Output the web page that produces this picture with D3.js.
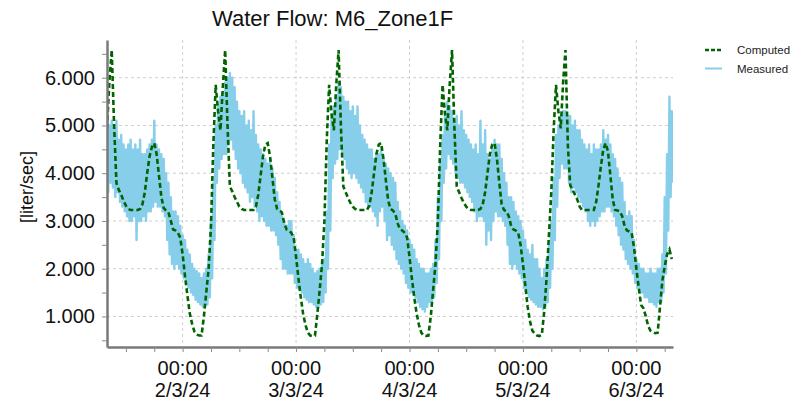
<!DOCTYPE html>
<html>
<head>
<meta charset="utf-8">
<script src="https://cdn.jsdelivr.net/npm/d3@7/dist/d3.min.js"></script>
<style>
	body { margin: 0; background: #fff; }
	text { font-family: "Liberation Sans", Arial, sans-serif; fill: #111; }
</style>
</head>
<body>
<svg id="chart" width="803" height="403"></svg>
<script>

	// Both series start 1/3/24 08:00
	var startTime = new Date(2024, 2, 1, 8, 0),
		computedStep = 30,   // minutes
		measuredStep = 15;   // minutes

	// Computed flow [liter/sec], every 30 min
	var computed = [
		// 1/3 08:00 - 23:30
		4.95, 5.9, 6.58, 5.0, 3.79, 3.65, 3.55, 3.42, 3.32, 3.25, 3.23, 3.23, 3.23, 3.23, 3.25, 3.35,
		3.6, 4.0, 4.35, 4.55, 4.63, 4.4, 3.95, 3.5, 3.27, 3.22, 3.18, 3.0, 2.82, 2.8, 2.75, 2.65,
		// 2/3
		2.3, 1.85, 1.45, 1.07, 0.85, 0.68, 0.62, 0.6, 0.6, 1.0, 1.5, 2.0, 2.9, 4.6, 5.85, 5.3,
		4.9, 5.8, 6.58, 5.0, 3.72, 3.62, 3.5, 3.4, 3.3, 3.25, 3.23, 3.23, 3.23, 3.23, 3.23, 3.3,
		3.55, 3.95, 4.35, 4.6, 4.63, 4.35, 3.9, 3.45, 3.25, 3.22, 3.18, 2.95, 2.82, 2.8, 2.75, 2.65,
		// 3/3
		2.25, 1.8, 1.4, 1.05, 0.82, 0.66, 0.6, 0.59, 0.6, 1.05, 1.55, 2.1, 3.0, 4.7, 5.85, 5.25,
		4.9, 5.85, 6.58, 4.95, 3.72, 3.6, 3.48, 3.38, 3.3, 3.25, 3.23, 3.23, 3.23, 3.23, 3.23, 3.32,
		3.6, 4.0, 4.4, 4.6, 4.63, 4.3, 3.85, 3.42, 3.25, 3.22, 3.15, 2.95, 2.82, 2.8, 2.75, 2.65,
		// 4/3
		2.25, 1.8, 1.4, 1.07, 0.82, 0.66, 0.6, 0.59, 0.6, 1.0, 1.55, 2.1, 3.0, 4.6, 5.85, 5.25,
		4.9, 5.85, 6.58, 4.95, 3.72, 3.6, 3.48, 3.38, 3.3, 3.25, 3.23, 3.23, 3.23, 3.23, 3.25, 3.35,
		3.6, 4.0, 4.4, 4.6, 4.63, 4.3, 3.8, 3.35, 3.23, 3.2, 3.1, 2.9, 2.82, 2.8, 2.75, 2.5,
		// 5/3
		2.1, 1.65, 1.2, 0.9, 0.7, 0.64, 0.6, 0.59, 0.62, 1.1, 1.8, 2.7, 3.6, 4.9, 5.85, 5.3,
		4.94, 5.9, 6.58, 4.6, 3.75, 3.65, 3.55, 3.45, 3.3, 3.23, 3.23, 3.23, 3.23, 3.23, 3.23, 3.4,
		3.75, 4.15, 4.5, 4.63, 4.45, 3.95, 3.45, 3.23, 3.22, 3.2, 3.1, 2.9, 2.8, 2.78, 2.75, 2.45,
		// 6/3 00:00 - 07:30
		2.0, 1.6, 1.24, 1.17, 1.0, 0.8, 0.7, 0.67, 0.65, 0.66, 1.2, 1.75, 2.05, 2.3, 2.4, 2.2
	];

	// Measured flow [liter/sec], every 15 min (noisy, jumps up and down), one row per 6 hours
	var measured = [
		5.4,3.6,5.0,3.8, 5.1,3.7,4.9,3.5, 5.1,3.6,4.7,3.4, 4.8,3.3,4.6,3.2, 4.5,3.1,4.6,3.0, 4.7,3.0,4.5,3.1,
		4.6,2.6,4.5,3.0, 4.7,3.0,4.4,3.1, 4.4,3.0,4.5,3.2, 4.6,3.2,4.7,3.3, 5.1,3.4,4.6,3.3, 4.5,3.3,4.4,3.2,
		4.3,3.1,4.0,2.6, 3.8,2.3,3.5,2.1, 3.2,2.0,3.2,2.1, 3.1,2.0,2.9,1.9, 2.7,1.8,2.6,1.7, 2.4,1.6,2.3,1.5,
		2.1,1.45,2.0,1.35, 1.95,1.3,1.9,1.25, 1.8,1.2,1.9,1.2, 2.0,1.25,2.3,1.4, 3.0,1.8,3.8,2.6, 5.0,3.8,5.4,4.1,
		5.6,4.3,5.7,4.4, 5.9,4.4,6.0,4.6, 6.1,4.7,6.0,4.5, 5.8,4.3,5.5,4.1, 5.3,4.0,5.2,3.8, 5.3,3.7,5.0,3.6,
		5.1,3.4,4.9,3.5, 5.3,3.3,4.8,3.2, 4.6,3.0,4.5,3.1, 4.4,3.0,4.3,2.9, 4.2,2.9,4.3,2.8, 4.1,2.8,3.9,2.7,
		3.6,2.5,3.4,2.2, 3.1,2.0,3.0,2.0, 2.9,1.9,3.0,1.9, 3.0,1.9,2.7,1.7, 2.4,1.6,2.4,1.55, 2.3,1.5,2.2,1.4,
		2.1,1.35,2.2,1.3, 2.1,1.3,2.0,1.25, 1.9,1.2,1.95,1.2, 2.0,1.25,2.1,1.3, 2.2,1.5,3.2,2.0, 4.6,2.8,5.2,3.9,
		5.4,4.2,5.6,4.3, 5.9,4.5,5.8,4.4, 5.6,4.3,5.5,4.1, 5.5,4.0,5.3,3.9, 5.4,4.0,5.2,3.9, 5.4,3.8,5.0,3.7,
		4.8,3.6,4.7,3.4, 4.6,3.3,4.5,3.3, 4.5,3.2,4.3,3.1, 4.4,2.9,4.4,3.2, 4.5,3.3,4.3,3.0, 4.2,2.6,4.1,2.7,
		4.0,2.5,3.9,2.4, 3.8,2.2,3.4,2.1, 3.2,2.0,3.0,1.9, 2.9,1.7,2.8,1.6, 2.6,1.5,2.5,1.5, 2.4,1.4,2.2,1.3,
		2.1,1.2,2.0,1.15, 2.0,1.1,1.9,1.2, 1.9,1.3,2.0,1.3, 2.1,1.4,2.6,1.7, 3.5,2.2,4.2,3.0, 4.8,3.8,5.2,4.1,
		5.5,4.4,5.4,4.3, 5.3,4.2,5.1,4.0, 5.2,3.9,5.0,3.8, 5.3,3.8,4.9,3.7, 4.8,3.6,4.7,3.5, 4.6,3.4,4.5,3.2,
		4.6,3.0,4.4,3.1, 5.1,3.1,4.6,3.0, 4.9,2.5,4.4,2.8, 4.3,2.6,4.5,3.0, 4.7,3.2,4.6,3.1, 4.6,3.1,4.3,3.0,
		4.0,2.9,3.8,2.5, 3.5,2.1,3.5,2.0, 3.4,2.1,3.2,2.0, 3.1,1.9,3.0,1.8, 2.8,1.6,2.6,1.5, 2.4,1.4,2.3,1.35,
		2.5,1.3,2.2,1.25, 2.2,1.2,2.0,1.2, 1.8,1.15,2.0,1.2, 2.2,1.3,2.5,1.6, 3.0,2.0,3.9,2.6, 4.8,3.3,5.0,3.9,
		5.2,4.2,5.3,4.1, 5.3,4.1,5.2,3.8, 5.2,3.6,5.0,3.7, 5.1,3.6,4.9,3.5, 4.9,3.4,4.7,3.3, 4.6,3.2,4.5,3.0,
		4.6,2.9,4.4,3.0, 4.6,2.9,4.5,3.0, 4.5,3.1,4.6,3.2, 4.9,3.2,4.7,3.3, 4.8,3.3,4.6,3.2, 4.4,3.1,4.3,2.9,
		4.1,2.7,3.9,2.5, 3.8,2.4,3.4,2.2, 3.1,2.1,3.2,2.0, 3.1,1.9,2.6,1.7, 2.2,1.6,2.1,1.5, 2.0,1.5,2.0,1.4,
		1.9,1.4,1.9,1.3, 2.0,1.3,1.9,1.25, 1.9,1.2,2.0,1.3, 2.0,1.3,2.3,1.5, 3.5,1.9,4.4,2.8, 5.6,3.5,5.3,3.8
	];

	// Axis ticks
	var yLabels = [1, 2, 3, 4, 5, 6],
		yMinor = [0.5, 1, 1.5, 2, 2.5, 3, 3.5, 4, 4.5, 5, 5.5, 6, 6.5],
		dayTicks = ["2/3/24", "3/3/24", "4/3/24", "5/3/24", "6/3/24"];

	var seriesNames = ["Computed", "Measured"];

	// Plot box
	var plotLeft = 107, plotRight = 673, plotTop = 40, plotBottom = 347;

	var svg = d3.select("#chart");

	var x = d3.scaleTime()
		.domain([new Date(2024, 2, 1, 8, 0), new Date(2024, 2, 6, 7, 45)])
		.range([plotLeft, plotRight]);

	var y = d3.scaleLinear()
		.domain([0.36, 6.79])
		.range([plotBottom, plotTop]);

	var parseDay = d3.timeParse("%-d/%-m/%y");
	var midnights = dayTicks.map(function(d) { return parseDay(d); });
	var sixHours = d3.timeHour.every(6).range(x.domain()[0], x.domain()[1]);

	// Dashed grid
	var grid = svg.append("g")
		.attr("stroke", "#cfcfcf")
		.attr("stroke-width", 1)
		.attr("stroke-dasharray", "3,3");

	grid.selectAll(".gh").data(yLabels).enter().append("line")
		.attr("x1", plotLeft).attr("x2", plotRight)
		.attr("y1", function(d) { return y(d); })
		.attr("y2", function(d) { return y(d); });

	grid.selectAll(".gv").data(midnights).enter().append("line")
		.attr("x1", function(d) { return x(d); })
		.attr("x2", function(d) { return x(d); })
		.attr("y1", plotTop).attr("y2", plotBottom);

	// Lines
	svg.append("clipPath").attr("id", "plot")
		.append("rect").attr("x", plotLeft).attr("y", plotTop)
		.attr("width", plotRight - plotLeft).attr("height", plotBottom - plotTop);

	function seriesLine(step) {
		return d3.line()
			.x(function(d, i) { return x(d3.timeMinute.offset(startTime, i * step)); })
			.y(function(d) { return y(d); });
	}

	svg.append("path")
		.datum(measured)
		.attr("clip-path", "url(#plot)")
		.attr("fill", "none")
		.attr("stroke", "#87ceeb")
		.attr("stroke-width", 2.4)
		.attr("stroke-linejoin", "round")
		.attr("d", seriesLine(measuredStep));

	svg.append("path")
		.datum(computed)
		.attr("clip-path", "url(#plot)")
		.attr("fill", "none")
		.attr("stroke", "#006400")
		.attr("stroke-width", 2.6)
		.attr("stroke-dasharray", "5,3")
		.attr("d", seriesLine(computedStep));

	// Y axis
	var yAxis = svg.append("g")
		.attr("transform", "translate(" + plotLeft + ",0)")
		.call(d3.axisLeft(y)
			.tickValues(yMinor)
			.tickSize(5)
			.tickSizeOuter(0)
			.tickPadding(7)
			.tickFormat(function(d) { return d % 1 === 0 ? d3.format(".3f")(d) : ""; }));

	// X axis
	var xAxis = svg.append("g")
		.attr("transform", "translate(0," + plotBottom + ")")
		.call(d3.axisBottom(x)
			.tickValues(sixHours)
			.tickSize(5)
			.tickSizeOuter(0)
			.tickFormat(""));

	[yAxis, xAxis].forEach(function(ax) {
		ax.select(".domain").attr("stroke", "#7a7a7a").attr("stroke-width", 2.5);
		ax.selectAll(".tick line").attr("stroke", "#8a8a8a");
		ax.selectAll("text").attr("font-size", 20).attr("fill", "#111")
			.attr("font-family", "'Liberation Sans', Arial, sans-serif");
	});

	var xLabels = svg.append("g")
		.selectAll("text").data(midnights).enter().append("text")
		.attr("x", function(d) { return x(d); })
		.attr("text-anchor", "middle")
		.attr("font-size", 20);
	xLabels.append("tspan").attr("x", function(d) { return x(d); }).attr("y", 375)
		.text(function(d) { return d3.timeFormat("%H:%M")(d); });
	xLabels.append("tspan").attr("x", function(d) { return x(d); }).attr("y", 397)
		.text(function(d, i) { return dayTicks[i]; });

	// Title and axis label
	svg.append("text")
		.attr("x", 212).attr("y", 26)
		.attr("font-size", 22)
		.text("Water Flow: M6_Zone1F");

	svg.append("text")
		.attr("transform", "translate(33,187) rotate(-90)")
		.attr("text-anchor", "middle")
		.attr("font-size", 18)
		.text("[liter/sec]");

	// Legend
	var legend = svg.append("g").attr("transform", "translate(705,0)");
	legend.append("line")
		.attr("x1", 0).attr("x2", 17).attr("y1", 50).attr("y2", 50)
		.attr("stroke", "#006400").attr("stroke-width", 2.5).attr("stroke-dasharray", "4,2");
	legend.append("line")
		.attr("x1", 0).attr("x2", 17).attr("y1", 68.5).attr("y2", 68.5)
		.attr("stroke", "#87ceeb").attr("stroke-width", 2);
	legend.selectAll("text").data(seriesNames).enter().append("text")
		.attr("x", 32)
		.attr("y", function(d, i) { return 54 + i * 18.5; })
		.attr("font-family", "'DejaVu Sans', Verdana, sans-serif")
		.attr("font-size", 11.5)
		.style("fill", "#222")
		.text(function(d) { return d; });

</script>
</body>
</html>
